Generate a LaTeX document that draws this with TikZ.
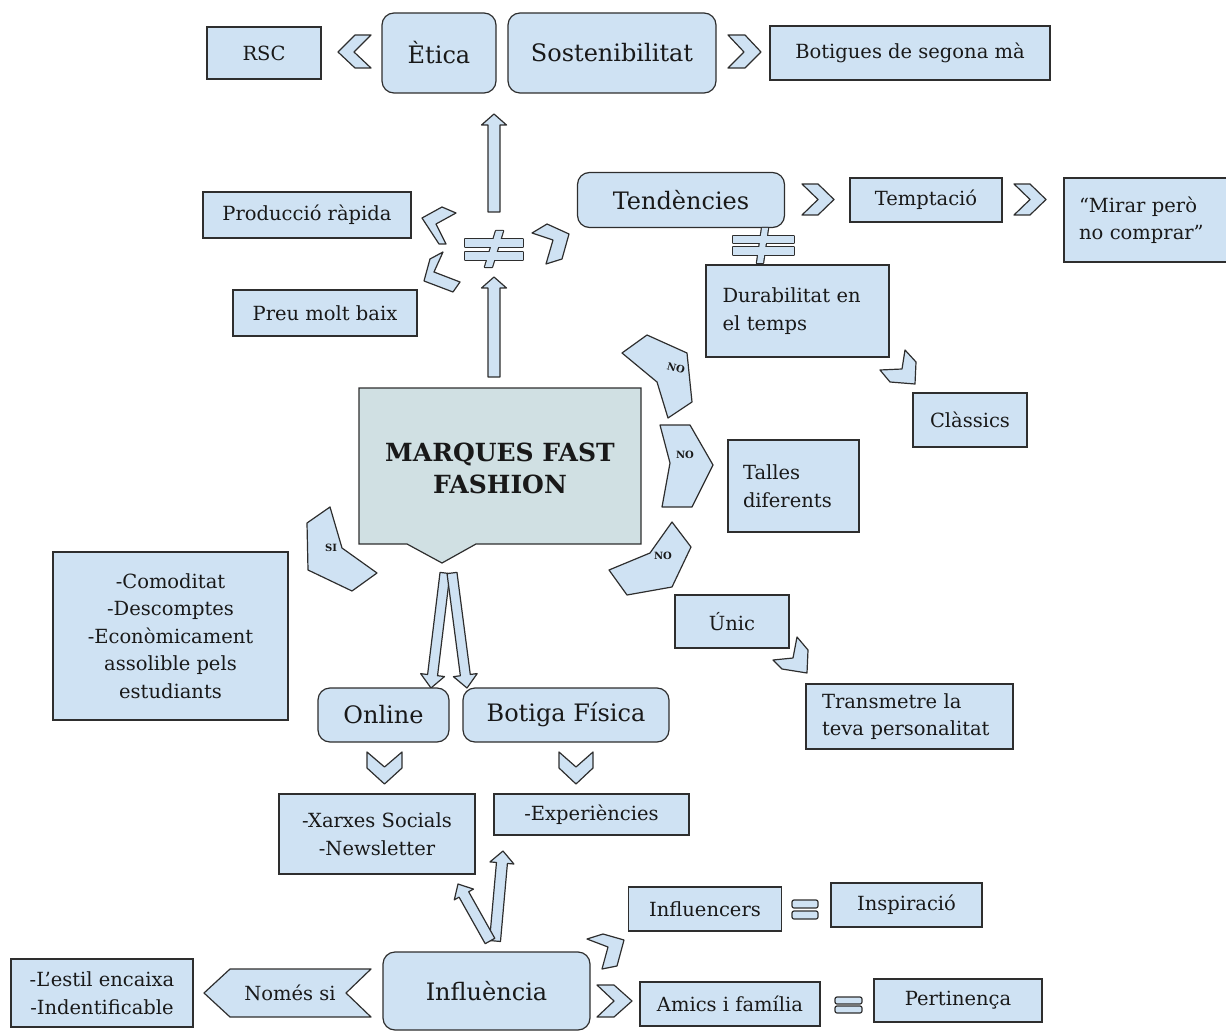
\documentclass[tikz,border=0pt]{standalone}
\usepackage{fontspec}
\setmainfont{DejaVu Serif}
\usetikzlibrary{calc}
\definecolor{boxblue}{HTML}{CFE2F3}
\definecolor{mainfill}{HTML}{D0E0E3}
\definecolor{edgegray}{HTML}{2E2E2E}

% block arrow from tail #1 to tip #2: shaft half width, head half width, head length
\newcommand{\blockarrow}[5]{%
  \coordinate (bah) at ($(#2)!#5!(#1)$);
  \draw[shp] ($(#1)!#3!90:(#2)$) -- ($(bah)!#3!90:(#2)$)
    -- ($(bah)!#4!90:(#2)$) -- (#2) -- ($(bah)!#4!-90:(#2)$)
    -- ($(bah)!#3!-90:(#2)$) -- ($(#1)!#3!-90:(#2)$) -- cycle;}

\begin{document}
\begin{tikzpicture}[x=1pt, y=-1pt,
  every node/.style={font=\fontsize{19.5}{27.5}\selectfont, text=black!90},
  box/.style={rectangle, draw=edgegray, fill=boxblue, line width=1.2pt,
              align=center, inner sep=0pt},
  rbox/.style={box, rounded corners=12pt, font=\fontsize{24}{28}\selectfont},
  lbox/.style={box, align=left},
  shp/.style={draw=edgegray, fill=boxblue, line width=1.2pt, line join=round},
  neqout/.style={draw=edgegray, fill=boxblue, line width=2.4pt, line join=round},
  neqin/.style={fill=boxblue},
  tag/.style={font=\bfseries\fontsize{10}{12}\selectfont, inner sep=0pt}
]
  \useasboundingbox (0,0) rectangle (1226,1032);

  % top row
  \node[box, minimum width=114pt, minimum height=52pt] (rsc) at (264,53) {RSC};
  \node[rbox, minimum width=114pt, minimum height=80pt] (etica) at (439,53) {Ètica};
  \node[rbox, minimum width=208pt, minimum height=80pt] (sost) at (612,53) {Sostenibilitat};
  \node[box, minimum width=280pt, minimum height=54pt] (segona) at (910,53) {Botigues de segona mà};
  \draw[shp] (371,35) -- (354,52) -- (371,68) -- (355,68) -- (338,52) -- (355,35) -- cycle;
  \draw[shp] (728,35) -- (745,35) -- (761,52) -- (745,68) -- (728,68) -- (744,52) -- cycle;

  % up arrows and the first not-equal sign
  \coordinate (upa) at (494,212);
  \coordinate (upb) at (494,114);
  \blockarrow{upa}{upb}{6pt}{12.5pt}{11pt}
  \coordinate (upc) at (494,377);
  \coordinate (upd) at (494,277);
  \blockarrow{upc}{upd}{6pt}{12.5pt}{11pt}
  \foreach \st in {neqout, neqin} {
    \path[\st] (496,231) -- (503,231) -- (492,267) -- (485,267) -- cycle;
    \path[\st] (465,239) rectangle (523,247);
    \path[\st] (465,252) rectangle (523,260);
  }
  \draw[shp] (422,218) -- (442,207) -- (456,213) -- (436,224) -- (446,244) -- (439,244) -- cycle;
  \draw[shp] (430,259) -- (443,252) -- (434,272) -- (460,282) -- (453,292) -- (424,281) -- cycle;
  \draw[shp] (532,233) -- (547,224) -- (569,234) -- (562,259) -- (546,264) -- (553,240) -- cycle;

  \node[box, minimum width=208pt, minimum height=46pt] (rapida) at (307,215) {Producció ràpida};
  \node[box, minimum width=184pt, minimum height=46pt] (preu) at (325,313) {Preu molt baix};

  % tendencies branch
  \node[rbox, minimum width=207pt, minimum height=55pt] (tend) at (681,200) {Tendències};
  \node[box, minimum width=152pt, minimum height=44pt] (tempt) at (926,200) {Temptació};
  \node[lbox, minimum width=163pt, minimum height=84pt, text width=133pt] (mirar)
    at (1145.5,220) {“Mirar però\\no comprar”};
  \draw[shp] (802,184) -- (818,184) -- (834,199.5) -- (818,215) -- (802,215) -- (818,199.5) -- cycle;
  \draw[shp] (1014,184) -- (1030,184) -- (1046,199.5) -- (1030,215) -- (1014,215) -- (1030,199.5) -- cycle;
  \foreach \st in {neqout, neqin} {
    \path[\st] (762,228) -- (768,228) -- (763,263) -- (757,263) -- cycle;
    \path[\st] (733,236) rectangle (794,243);
    \path[\st] (733,247) rectangle (794,255);
  }
  \node[lbox, minimum width=183pt, minimum height=92pt, text width=150pt] (durab)
    at (797.5,311) {Durabilitat en\\el temps};
  \draw[shp] (880,370) -- (902,369) -- (905,350) -- (916,362) -- (915,384) -- (890,382) -- cycle;
  \node[box, minimum width=114pt, minimum height=54pt] (classics) at (970,420) {Clàssics};

  % central node
  \draw[draw=edgegray, fill=mainfill, line width=1.2pt]
    (359,388) -- (641,388) -- (641,544) -- (476,544) -- (442,563) -- (407,544) -- (359,544) -- cycle;
  \node[font=\bfseries\fontsize{25}{32}\selectfont, align=center] (marques)
    at (500,468) {MARQUES FAST\\FASHION};

  % NO / SI tags
  \draw[shp] (622,353) -- (647,335) -- (687,353) -- (692,402) -- (668,418) -- (657,382) -- cycle;
  \node[tag, rotate=-15] (no1) at (676,368) {NO};
  \draw[shp] (660,425) -- (690,425) -- (713,465) -- (692,507) -- (662,507) -- (670,463) -- cycle;
  \node[tag] (no2) at (685,455) {NO};
  \draw[shp] (672,522) -- (691,547) -- (672,587) -- (627,595) -- (609,570) -- (650,553) -- cycle;
  \node[tag] (no3) at (663,556) {NO};
  \draw[shp] (330,507) -- (342,548) -- (377,573) -- (352,591) -- (308,570) -- (307,523) -- cycle;
  \node[tag] (si) at (331,548) {SI};

  \node[lbox, minimum width=131pt, minimum height=92pt, text width=101pt] (talles)
    at (793.5,486) {Talles\\diferents};
  \node[box, minimum width=114pt, minimum height=53pt] (unic) at (732,621.5) {Únic};
  \draw[shp] (773,660) -- (793,658) -- (797,637) -- (808,650) -- (807,673) -- (782,669) -- cycle;
  \node[lbox, minimum width=207pt, minimum height=65pt, text width=175pt] (transm)
    at (909.5,716.5) {Transmetre la\\teva personalitat};

  \node[box, minimum width=235pt, minimum height=168pt] (comod) at (170.5,636)
    {-Comoditat\\-Descomptes\\-Econòmicament\\assolible pels\\estudiants};

  % channels
  \coordinate (dla) at (445,573);
  \coordinate (dlb) at (431,688);
  \blockarrow{dla}{dlb}{5pt}{12pt}{13pt}
  \coordinate (dra) at (452,573);
  \coordinate (drb) at (467,688);
  \blockarrow{dra}{drb}{5pt}{12pt}{13pt}
  \node[rbox, minimum width=131pt, minimum height=54pt] (online) at (383.5,715) {Online};
  \node[rbox, minimum width=206pt, minimum height=54pt] (botiga) at (566,715) {Botiga Física};
  \draw[shp] (367,752) -- (384.5,767) -- (402,752) -- (402,768) -- (384.5,784) -- (367,768) -- cycle;
  \draw[shp] (559,752) -- (576,767) -- (593,752) -- (593,768) -- (576,784) -- (559,768) -- cycle;
  \node[box, minimum width=196pt, minimum height=80pt] (xarxes) at (377,834)
    {-Xarxes Socials\\-Newsletter};
  \node[box, minimum width=195pt, minimum height=41pt] (exper) at (591.5,814.5) {-Experiències};

  % influence
  \coordinate (ia) at (495,941);
  \coordinate (ib) at (503,851);
  \blockarrow{ia}{ib}{5.5pt}{12pt}{12pt}
  \coordinate (ic) at (490,941);
  \coordinate (id) at (458,884);
  \blockarrow{ic}{id}{5.5pt}{11pt}{12pt}
  \node[rbox, minimum width=207pt, minimum height=78pt] (influ) at (486.5,991) {Influència};
  \draw[shp] (204,993) -- (230,969) -- (371,969) -- (346,993) -- (371,1017) -- (230,1017) -- cycle;
  \node (nomes) at (290,993) {Només si};
  \node[box, minimum width=182pt, minimum height=68pt] (estil) at (102,993)
    {-L’estil encaixa\\-Indentificable};

  \draw[shp] (587,939) -- (603,934) -- (624,940) -- (617,966) -- (602,969) -- (608,947) -- cycle;
  \draw[shp] (597,985) -- (614,985) -- (632,1001) -- (614,1017) -- (597,1017) -- (614,1001) -- cycle;
  \node[box, minimum width=153pt, minimum height=44pt] (inflrs) at (705,909) {Influencers};
  \node[box, minimum width=151pt, minimum height=44pt] (inspi) at (906.5,905) {Inspiració};
  \node[box, minimum width=180pt, minimum height=44pt] (amics) at (730,1004) {Amics i família};
  \node[box, minimum width=168pt, minimum height=43pt] (perti) at (958,1000.5) {Pertinença};
  \draw[shp, rounded corners=2pt] (792,900) rectangle (818,908);
  \draw[shp, rounded corners=2pt] (792,911) rectangle (818,919);
  \draw[shp, rounded corners=2pt] (835,997) rectangle (862,1004);
  \draw[shp, rounded corners=2pt] (835,1006) rectangle (862,1013);
\end{tikzpicture}
\end{document}
